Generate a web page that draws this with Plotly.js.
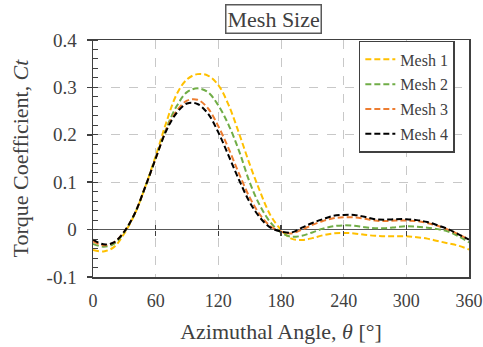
<!DOCTYPE html>
<html>
<head>
<meta charset="utf-8">
<script src="https://cdn.plot.ly/plotly-3.0.1.min.js"></script>
<style>html,body{margin:0;padding:0;background:#fff;}#chart{width:483px;height:347px;}</style>
</head>
<body>
<div id="chart"></div>
<script>
const theta = [0,10,20,30,40,50,60,70,80,90,100,110,120,130,140,150,160,170,180,190,200,210,220,230,240,250,260,270,280,290,300,310,320,330,340,350,360];
const mesh1 = [-0.043,-0.046,-0.037,-0.008,0.033,0.090,0.155,0.225,0.285,0.317,0.328,0.325,0.305,0.262,0.202,0.138,0.080,0.030,0.000,-0.019,-0.022,-0.018,-0.012,-0.008,-0.007,-0.008,-0.011,-0.013,-0.014,-0.014,-0.014,-0.016,-0.019,-0.024,-0.029,-0.034,-0.042];
const mesh2 = [-0.030,-0.036,-0.030,-0.005,0.034,0.090,0.151,0.212,0.260,0.290,0.298,0.290,0.262,0.220,0.165,0.100,0.050,0.015,-0.006,-0.015,-0.013,-0.006,0.002,0.007,0.009,0.008,0.005,0.003,0.003,0.005,0.007,0.006,0.004,0.001,-0.004,-0.014,-0.027];
const mesh3 = [-0.025,-0.033,-0.027,-0.004,0.034,0.090,0.150,0.210,0.250,0.272,0.274,0.256,0.218,0.170,0.117,0.068,0.031,0.007,-0.004,-0.008,0.000,0.010,0.018,0.024,0.026,0.026,0.023,0.019,0.018,0.019,0.019,0.018,0.014,0.008,0.000,-0.010,-0.021];
const mesh4 = [-0.021,-0.031,-0.027,-0.004,0.034,0.090,0.150,0.208,0.246,0.266,0.265,0.245,0.205,0.155,0.104,0.058,0.025,0.004,-0.004,-0.006,0.004,0.014,0.022,0.029,0.031,0.031,0.027,0.022,0.021,0.022,0.022,0.020,0.016,0.009,0.001,-0.010,-0.021];
const seriesNames = ['Mesh 1','Mesh 2','Mesh 3','Mesh 4'];
const seriesColors = ['#FFC000','#70AD47','#ED7D31','#000000'];
const xTickVals = [0,60,120,180,240,300,360];
const xTickText = ['0','60','120','180','240','300','360'];
const yTickVals = [-0.1,0,0.1,0.2,0.3,0.4];
const yTickText = ['-0.1','0','0.1','0.2','0.3','0.4'];

const font = "'Liberation Serif', 'Times New Roman', serif";
const txt = '#404040';
const allY = [mesh1, mesh2, mesh3, mesh4];
const traces = allY.map((y, i) => ({
  x: theta, y: y, type: 'scatter', mode: 'lines', name: seriesNames[i], legendgroup: 'g' + i,
  line: {color: seriesColors[i], width: 2, dash: '6px,3px', shape: 'spline', smoothing: 1}
}));

const layout = {
  width: 483, height: 347,
  margin: {l: 93, r: 14, t: 40, b: 70},
  paper_bgcolor: '#fff', plot_bgcolor: '#fff',
  font: {family: font, color: txt},
  showlegend: true,
  legend: {x: 0.707, y: 0.996, xanchor: 'left', yanchor: 'top', bgcolor: '#fff', tracegroupgap: 1,
    bordercolor: '#404040', borderwidth: 1.5, font: {size: 16, family: font, color: txt}},
  xaxis: {range: [0, 360], tickvals: xTickVals, ticktext: xTickText, ticks: '', ticklabeloverflow: 'allow',
    showgrid: true, gridcolor: '#c8c8c8', griddash: 'dash', gridwidth: 1,
    showline: true, mirror: true, linecolor: '#404040', linewidth: 1.5, zeroline: false,
    tickfont: {size: 18, family: font, color: txt}, ticklabelstandoff: 7,
    title: {text: 'Azimuthal Angle, <i>θ</i> [°]', font: {size: 22, family: font, color: txt}, standoff: 13}},
  xaxis2: {range: [0, 360], overlaying: 'x', anchor: 'free', position: 0.2, tickvals: [60,120,180,240,300],
    ticks: 'outside', ticklen: 5, tickcolor: '#404040', tickwidth: 1.5, showticklabels: false,
    showgrid: false, showline: false, zeroline: false},
  xaxis3: {range: [0, 360], overlaying: 'x', anchor: 'free', position: 0.2, side: 'bottom', tickvals: [60,120,180,240,300],
    ticks: 'inside', ticklen: 5, tickcolor: '#404040', tickwidth: 1.5, showticklabels: false,
    showgrid: false, showline: false, zeroline: false},
  yaxis: {range: [-0.1, 0.4], tickvals: yTickVals, ticktext: yTickText, ticks: 'outside', ticklen: 5,
    tickcolor: '#404040', tickwidth: 1.5,
    minor: {dtick: 0.02, ticks: 'inside', ticklen: 5, tickcolor: '#404040', tickwidth: 1, showgrid: false},
    showgrid: true, gridcolor: '#c8c8c8', griddash: 'dash', gridwidth: 1,
    showline: true, mirror: true, linecolor: '#404040', linewidth: 1.5,
    zeroline: true, zerolinecolor: '#595959', zerolinewidth: 1.5,
    tickfont: {size: 19, family: font, color: txt}, ticklabelstandoff: 6,
    title: {text: 'Torque Coefficient, <i>Ct</i>', font: {size: 22, family: font, color: txt}, standoff: 12}},
  annotations: [{text: 'Mesh Size', xref: 'paper', yref: 'paper', x: 0.481, y: 1.0865,
    xanchor: 'center', yanchor: 'middle', showarrow: false,
    font: {size: 22, family: font, color: txt}, bordercolor: '#595959', borderwidth: 1.5, borderpad: 1, bgcolor: '#fff'}]
};
traces.push({x: [0], y: [0], xaxis: 'x2', mode: 'markers', marker: {opacity: 0}, showlegend: false, hoverinfo: 'skip'});
traces.push({x: [0], y: [0], xaxis: 'x3', mode: 'markers', marker: {opacity: 0}, showlegend: false, hoverinfo: 'skip'});
Plotly.newPlot('chart', traces, layout, {displayModeBar: false, staticPlot: true});
</script>
</body>
</html>
